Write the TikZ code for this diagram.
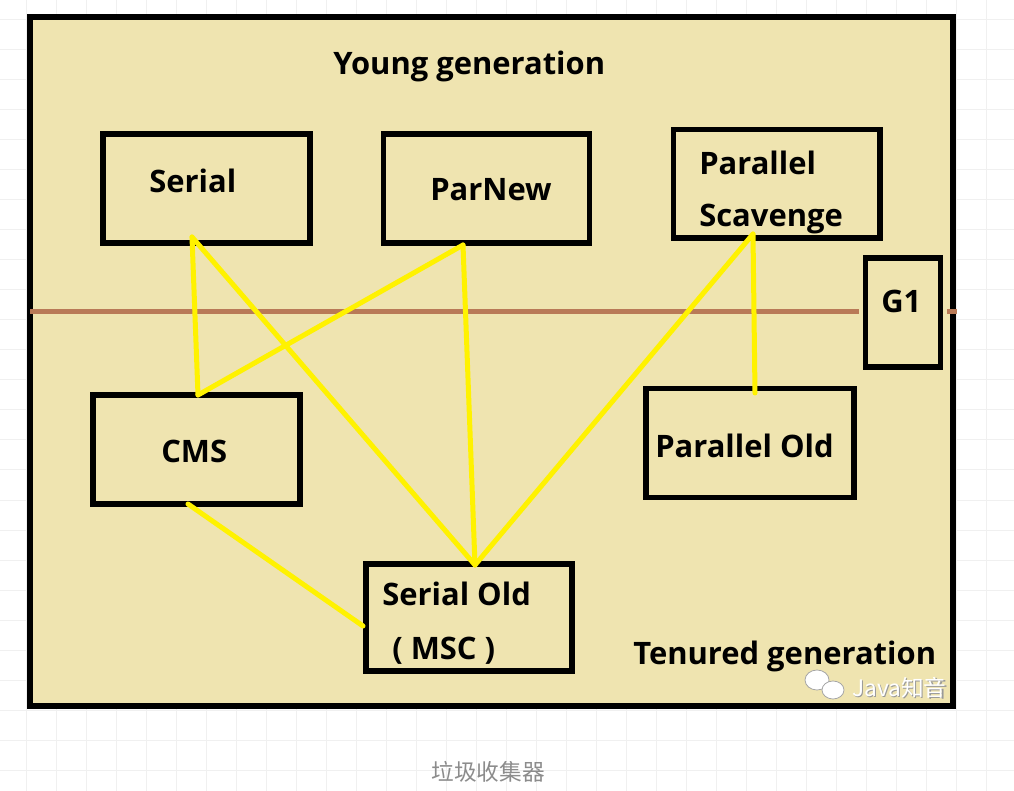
\documentclass[tikz,border=0pt]{standalone}
\usepackage{fontspec}
\setmainfont{Open Sans}
\newfontfamily\cjk{Noto Sans CJK SC}
\definecolor{tanbg}{HTML}{EFE4B0}
\definecolor{brownline}{HTML}{B97A57}
\definecolor{ylw}{HTML}{FFF200}
\definecolor{gridc}{HTML}{F0F0F0}
\definecolor{capgray}{HTML}{8C8C8C}
\begin{document}
\begin{tikzpicture}[x=0.75pt,y=-0.75pt,
  box/.style={draw=black,line width=4.1pt,fill=tanbg,rectangle,inner sep=0pt},
  lbl/.style={anchor=base west,inner sep=0pt,font=\fontsize{23.2}{27}\selectfont\bfseries},
  link/.style={draw=ylw,line width=3.75pt,line cap=round,line join=round}]
\useasboundingbox (0,0) rectangle (1014,791);
\fill[white] (0,0) rectangle (1014,791);
\foreach \gx in {26,56,...,1006} \draw[gridc,line width=0.75pt] (\gx,0) -- (\gx,791);
\foreach \gy in {20,50,...,790} \draw[gridc,line width=0.75pt] (0,\gy) -- (1014,\gy);
% main frame
\node[box,line width=4.5pt,minimum width=691.875pt,minimum height=516.375pt] (frame) at (491.25,361.75) {};
% divider
\coordinate (divL) at (30,312);
\coordinate (divR) at (859,312);
\draw[brownline,line width=3.75pt] (divL) -- (divR);
\coordinate (stubL) at (947,312);
\coordinate (stubR) at (957,312);
\draw[brownline,line width=3.75pt] (stubL) -- (stubR);
% boxes
\node[box,minimum width=155.25pt,minimum height=81.75pt] (serial) at (206.5,188.5) {};
\node[box,minimum width=154.5pt,minimum height=81.75pt] (parnew) at (486.5,188.5) {};
\node[box,minimum width=154.875pt,minimum height=81.375pt] (ps) at (776.75,183.75) {};
\node[box,minimum width=155.25pt,minimum height=81.75pt] (cms) at (196.5,449.5) {};
\node[box,minimum width=156pt,minimum height=81.75pt] (po) at (750,443) {};
\node[box,minimum width=154.5pt,minimum height=80.25pt] (so) at (469,617.5) {};
\node[box,line width=3.9pt,minimum width=56.25pt,minimum height=81.75pt] (g1) at (903,312.5) {};
% labels
\node[lbl] (tYoung) at (333,75) {Young generation};
\node[lbl] (tSerial) at (149,193) {Serial};
\node[lbl] (tParNew) at (430,201) {ParNew};
\node[lbl] (tPar) at (699,175) {Parallel};
\node[lbl] (tScav) at (699,227) {Scavenge};
\node[lbl] (tG1) at (881,313) {G1};
\node[lbl] (tCMS) at (161,463) {CMS};
\node[lbl] (tPO) at (655,458) {Parallel Old};
\node[lbl] (tSO) at (382,605) {Serial Old};
\node[lbl] (tMSC) at (392,659) {( MSC )};
\node[lbl] (tTen) at (633,664) {Tenured generation};
% connector end points
\coordinate (serialS) at (192,237);
\coordinate (cmsN) at (198,395);
\coordinate (cmsS) at (188,504);
\coordinate (parnewS) at (463,245);
\coordinate (psS) at (753,234);
\coordinate (poN) at (755,393);
\coordinate (soN) at (475,565);
\coordinate (soW) at (363,626);
\draw[link] (serialS) -- (cmsN);
\draw[link] (serialS) -- (soN);
\draw[link] (cmsN) -- (parnewS);
\draw[link] (parnewS) -- (soN);
\draw[link] (psS) -- (soN);
\draw[link] (psS) -- (poN);
\draw[link] (cmsS) -- (soW);
% watermark
\begin{scope}[draw=gray!70,line width=0.6pt,fill=white]
\filldraw (817,680) ellipse [x radius=12, y radius=10];
\filldraw (833,690) ellipse [x radius=11, y radius=9];
\end{scope}
\node[anchor=base west,inner sep=0pt,text=gray!80,font=\cjk\fontsize{17}{20}\selectfont] (wmS) at (853.5,697.5) {Java知音};
\node[anchor=base west,inner sep=0pt,text=white,font=\cjk\fontsize{17}{20}\selectfont] (wm) at (852,696) {Java知音};
% caption
\node[text=capgray,inner sep=0pt,font=\cjk\fontsize{17}{20}\selectfont] (cap) at (488,772) {垃圾收集器};
\end{tikzpicture}
\end{document}
